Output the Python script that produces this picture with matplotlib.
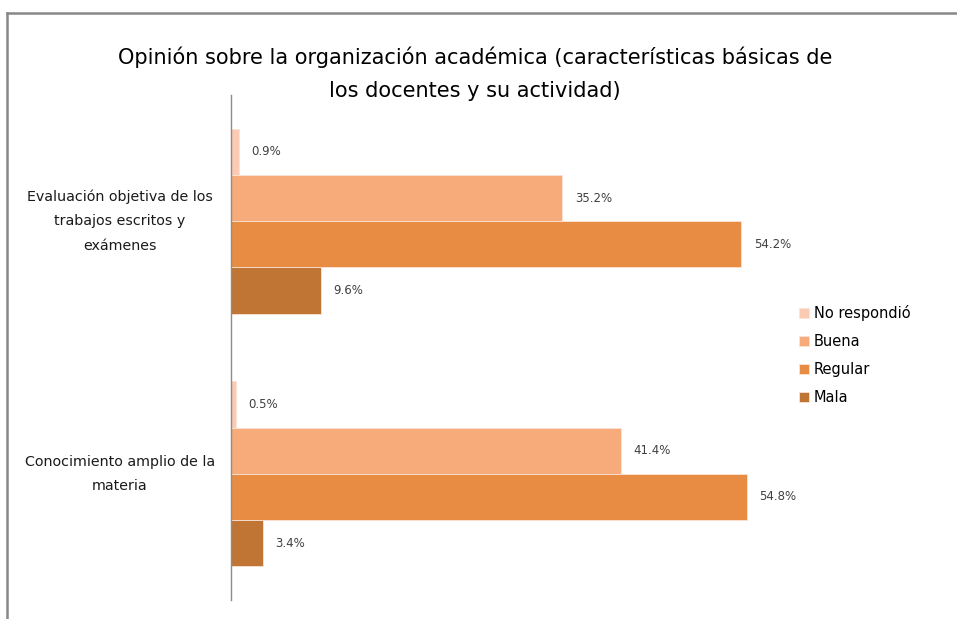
import numpy as np
import matplotlib.pyplot as plt
import matplotlib.transforms as mtransforms
from matplotlib.lines import Line2D

# data (bottom category first)
categories = ['Conocimiento amplio de la\nmateria',
              'Evaluación objetiva de los\ntrabajos escritos y\nexámenes']
series = ['No respondió', 'Buena', 'Regular', 'Mala']
values = {
    'No respondió': [0.5, 0.9],
    'Buena': [41.4, 35.2],
    'Regular': [54.8, 54.2],
    'Mala': [3.4, 9.6],
}
colors = ['#FBCAB2', '#F7AB7B', '#E88C43', '#C07535']

fig = plt.figure(figsize=(9.57, 6.19), dpi=100)
ax = fig.add_axes([231 / 957, 19 / 619, 565 / 957, 505 / 619])

y = np.arange(len(categories))
h = 0.183
offsets = [1.5 * h, 0.5 * h, -0.5 * h, -1.5 * h]

for name, color, off in zip(series, colors, offsets):
    vals = values[name]
    ax.barh(y + off, vals, height=h, color=color, edgecolor='#FBE3D6',
            linewidth=0.6, label=name)
    for yi, v in zip(y, vals):
        ax.text(v + 1.3, yi + off, f'{v:.1f}%', va='center', ha='left',
                fontsize=8.5, color='#404040')

ax.set_xlim(0, 60)
ax.set_ylim(-0.5, 1.5)
ax.set_yticks([])
ax.set_xticks([])

# category labels, centred left of the axis
trans = mtransforms.blended_transform_factory(fig.transFigure, ax.transData)
for yi, cat in zip(y, categories):
    ax.text(120 / 957, yi, cat, transform=trans, ha='center', va='center',
            fontsize=10.3, linespacing=1.95, color='#1a1a1a')

for s in ['top', 'right', 'bottom']:
    ax.spines[s].set_visible(False)
ax.spines['left'].set_color('#8c8c8c')
ax.spines['left'].set_linewidth(1.0)

fig.text(475 / 957, 1 - 74 / 619,
         'Opinión sobre la organización académica (características básicas de\nlos docentes y su actividad)',
         ha='center', va='center', fontsize=15, linespacing=1.8, color='#000000')

handles, labels = ax.get_legend_handles_labels()
fig.legend(handles, labels, loc='center left',
           bbox_to_anchor=(786 / 957, 1 - 355 / 619), frameon=False,
           fontsize=10.5, handlelength=0.7, handleheight=0.7,
           handletextpad=0.3, labelspacing=0.9)

# outer frame (clipped on right and bottom)
fig.add_artist(Line2D([7 / 957, 1], [1 - 12.5 / 619, 1 - 12.5 / 619],
                      transform=fig.transFigure, color='#888888', lw=1.8))
fig.add_artist(Line2D([7.5 / 957, 7.5 / 957], [0, 1 - 12.5 / 619],
                      transform=fig.transFigure, color='#888888', lw=1.8))

fig.savefig('out.png', dpi=100)
